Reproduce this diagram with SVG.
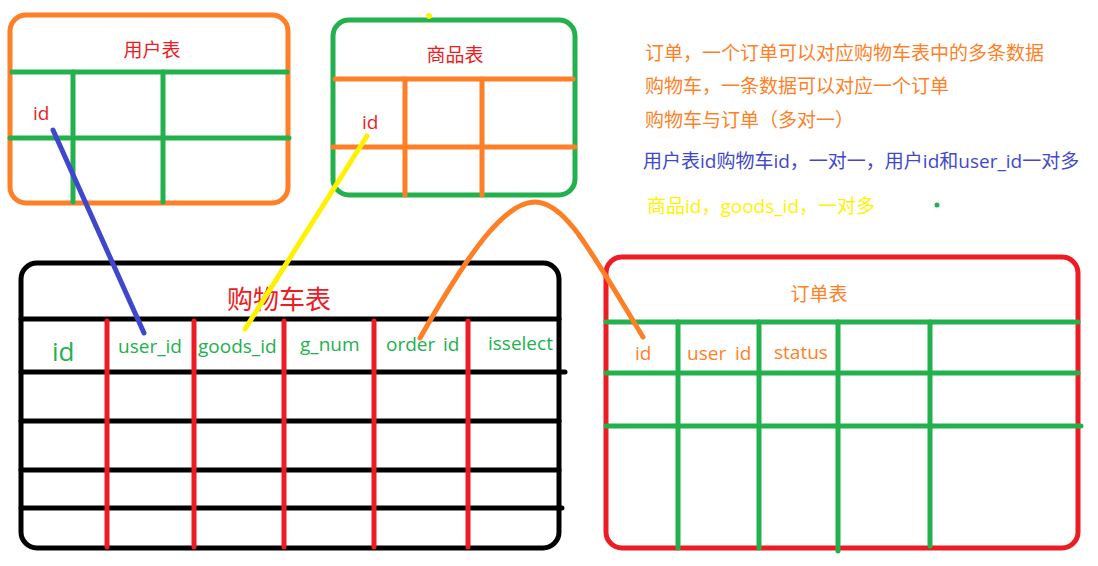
<svg xmlns="http://www.w3.org/2000/svg" width="1098" height="566" viewBox="0 0 1098 566">
<style>
text{font-family:"Open Sans","Noto Sans CJK SC",sans-serif;}
.cj{font-family:"Noto Sans CJK SC","Open Sans",sans-serif;}
.ln{stroke-width:5;stroke-linecap:round;fill:none;}
.box{stroke-width:5;fill:none;}
.og{stroke:#FF7F27;}
.gr{stroke:#22B14C;}
.rd{stroke:#ED1C24;}
.bk{stroke:#000;}
.t19{font-size:19px;}
.fr{fill:#ED1C24;}
.fo{fill:#FF7F27;}
.fg{fill:#22B14C;}
.fb{fill:#3F48CC;}
.fy{fill:#FFF200;}
</style>
<rect width="1098" height="566" fill="#fff"/>
<g id="user-table">
<rect class="box og" x="10" y="15" width="278" height="188" rx="16"/>
<line class="ln gr" x1="12" y1="72" x2="287" y2="72"/>
<line class="ln gr" x1="10" y1="138" x2="289" y2="138"/>
<line class="ln gr" x1="73" y1="72" x2="73" y2="202"/>
<line class="ln gr" x1="163" y1="72" x2="163" y2="202"/>
<text class="cj t19 fr" x="152" y="57" text-anchor="middle">用户表</text>
<text class="t19 fr" x="33" y="120">id</text>
</g>
<g id="goods-table">
<rect class="box gr" x="333" y="20" width="242" height="175" rx="16"/>
<line class="ln og" x1="335" y1="79" x2="573" y2="79"/>
<line class="ln og" x1="333" y1="147" x2="575" y2="147"/>
<line class="ln og" x1="405" y1="79" x2="405" y2="195"/>
<line class="ln og" x1="482" y1="79" x2="482" y2="195"/>
<text class="cj t19 fr" x="455" y="62" text-anchor="middle">商品表</text>
<text class="t19 fr" x="362" y="129">id</text>
</g>
<g id="cart-table">
<rect class="box bk" x="21" y="263" width="538" height="285" rx="16"/>
<line class="ln bk" x1="21" y1="319" x2="559" y2="319"/>
<line class="ln bk" x1="21" y1="372" x2="565" y2="372"/>
<line class="ln bk" x1="21" y1="421" x2="559" y2="421"/>
<line class="ln bk" x1="21" y1="470" x2="559" y2="470"/>
<line class="ln bk" x1="21" y1="508" x2="562" y2="508"/>
<line class="ln rd" x1="107" y1="321" x2="107" y2="547"/>
<line class="ln rd" x1="194" y1="321" x2="194" y2="547"/>
<line class="ln rd" x1="284" y1="321" x2="284" y2="547"/>
<line class="ln rd" x1="374" y1="321" x2="374" y2="547"/>
<line class="ln rd" x1="468" y1="321" x2="468" y2="547"/>
<text class="cj fr" x="279" y="309" font-size="26" text-anchor="middle">购物车表</text>
<text class="fg" x="52" y="361" font-size="26">id</text>
<text class="t19 fg" x="118" y="353">user_id</text>
<text class="t19 fg" x="198" y="353">goods_id</text>
<text class="t19 fg" x="300" y="351">g_num</text>
<text class="t19 fg" x="386" y="351">order <tspan x="443">id</tspan></text>
<text class="t19 fg" x="488" y="350">isselect</text>
</g>
<g id="order-table">
<rect class="box rd" x="606" y="257" width="472" height="291" rx="16"/>
<line class="ln gr" x1="606" y1="322" x2="1078" y2="322"/>
<line class="ln gr" x1="606" y1="373" x2="1078" y2="373"/>
<line class="ln gr" x1="606" y1="426" x2="1081" y2="426"/>
<line class="ln gr" x1="678" y1="322" x2="678" y2="548"/>
<line class="ln gr" x1="759" y1="322" x2="759" y2="548"/>
<line class="ln gr" x1="838" y1="322" x2="838" y2="551"/>
<line class="ln gr" x1="930" y1="322" x2="930" y2="546"/>
<text class="cj t19 fo" x="819" y="301" text-anchor="middle">订单表</text>
<text class="t19 fo" x="635" y="360">id</text>
<text class="t19 fo" x="687" y="360">user <tspan x="735">id</tspan></text>
<text class="t19 fo" x="774" y="359">status</text>
</g>
<g id="notes">
<text class="t19 fo" x="645" y="60">订单，一个订单可以对应购物车表中的多条数据</text>
<text class="t19 fo" x="645" y="93">购物车，一条数据可以对应一个订单</text>
<text class="t19 fo" x="645" y="127">购物车与订单（多对一）</text>
<text class="t19 fb" x="643" y="168">用户表id购物车id，一对一，用户id和user_id一对多</text>
<text class="t19 fy" x="647" y="213">商品id，goods_id，一对多</text>
<circle cx="429" cy="16" r="3" fill="#FFF200"/>
<circle cx="937" cy="205" r="2.5" fill="#22B14C"/>
</g>
<g id="connectors">
<line class="ln" stroke="#3F48CC" x1="53" y1="130" x2="144" y2="333"/>
<line class="ln" stroke="#FFF200" x1="367" y1="136" x2="245" y2="329"/>
<path class="ln og" d="M420,338 C470,250 505,202 535,202 C565,202 590,250 643,337"/>
</g>
</svg>
